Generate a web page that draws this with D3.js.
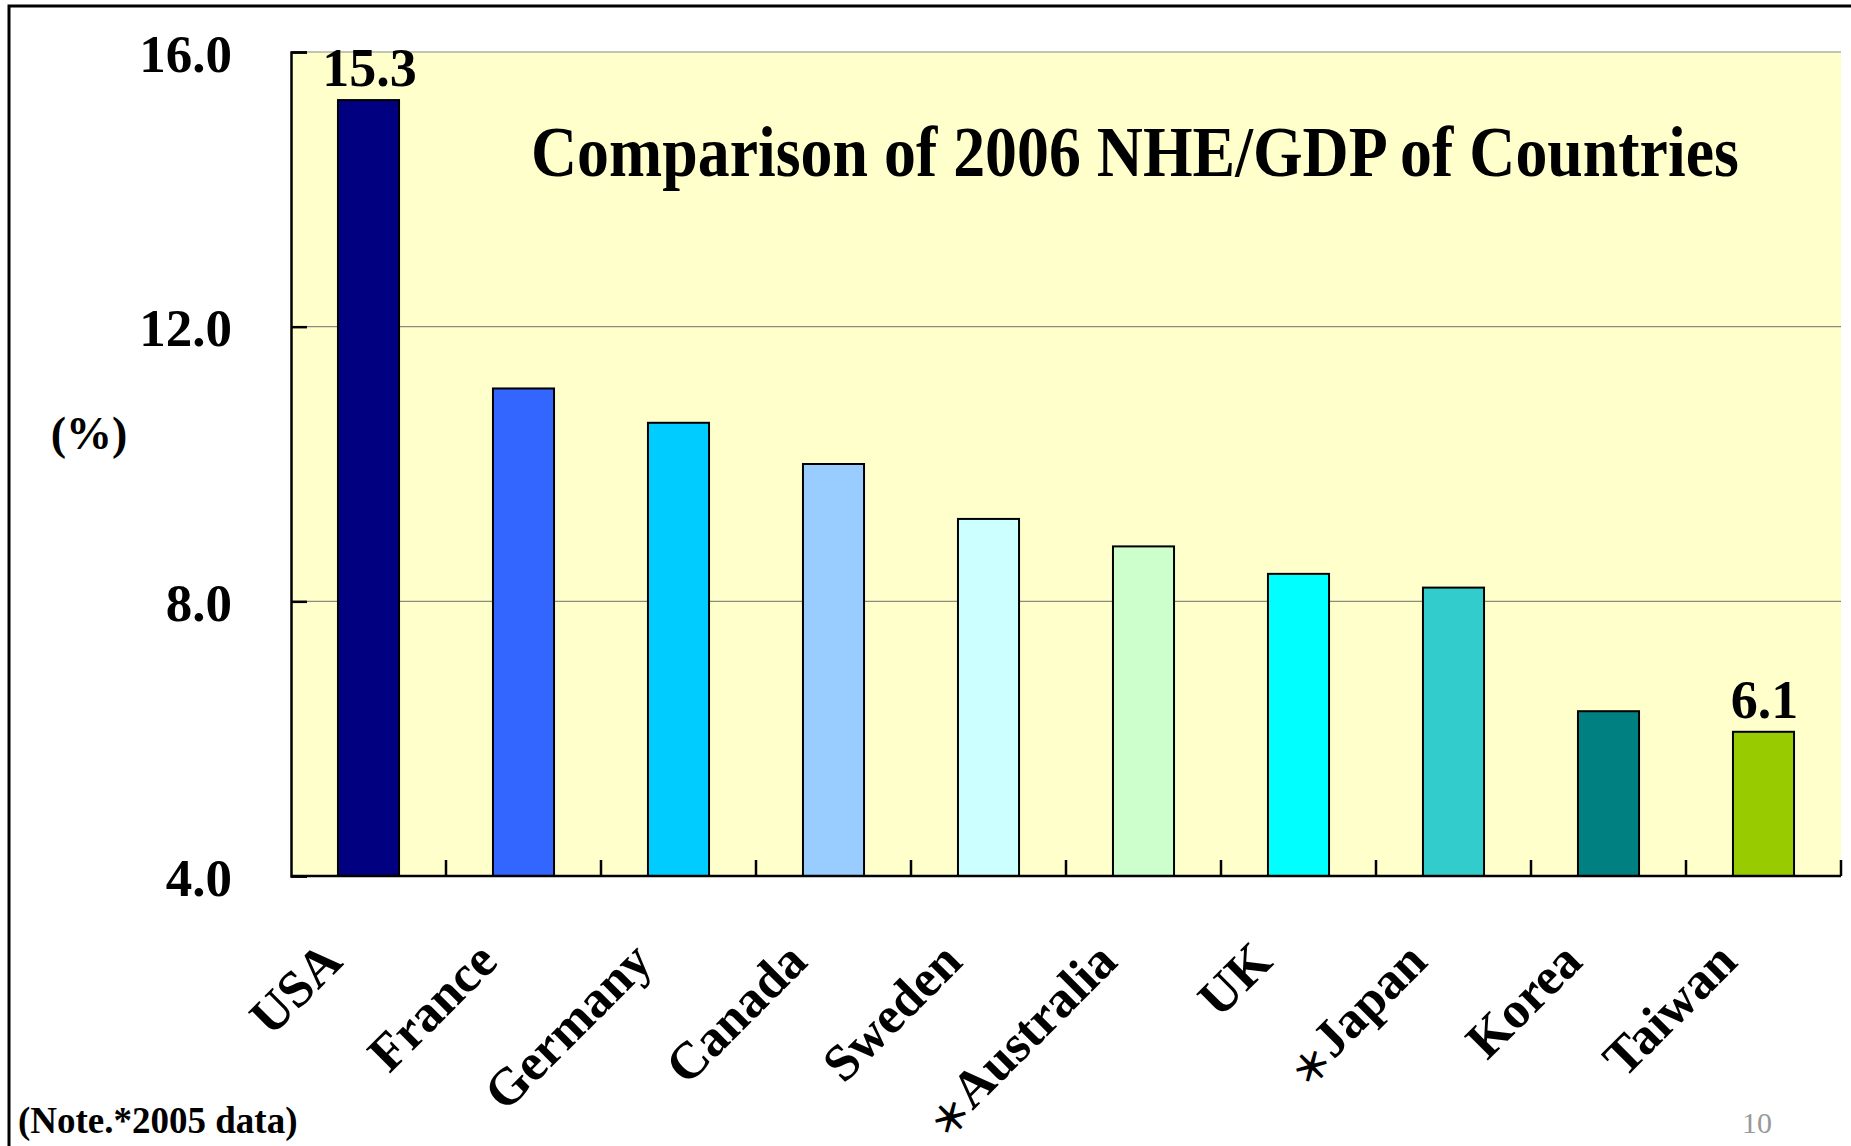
<!DOCTYPE html>
<html>
<head>
<meta charset="utf-8">
<script src="https://cdn.jsdelivr.net/npm/d3@7"></script>
<style>
  html, body { margin: 0; padding: 0; background: #fff; }
  svg { display: block; }
</style>
</head>
<body>
<svg id="chart" width="1851" height="1146"></svg>
<script>
const categories = ["USA", "France", "Germany", "Canada", "Sweden", "＊Australia", "UK", "＊Japan", "Korea", "Taiwan"];
const values = [15.3, 11.1, 10.6, 10.0, 9.2, 8.8, 8.4, 8.2, 6.4, 6.1];
const colors = ["#000080", "#3366FF", "#00CCFF", "#99CCFF", "#CCFFFF", "#CCFFCC", "#00FFFF", "#33CCCC", "#008080", "#99CC00"];
const yTicks = [4, 8, 12, 16];
const labelled = ["USA", "Taiwan"];

const SERIF = '"Liberation Serif", "Times New Roman", serif';
const svg = d3.select("#chart");
const W = 1851, H = 1146;
const plot = { left: 291, right: 1841, top: 52, bottom: 876 };

// outer frame
svg.append("rect")
  .attr("x", 9).attr("y", 6)
  .attr("width", W + 20).attr("height", H + 20)
  .attr("fill", "none").attr("stroke", "#000").attr("stroke-width", 3);

const x = d3.scaleBand()
  .domain(categories)
  .range([plot.left, plot.right])
  .paddingInner(0.606)
  .paddingOuter(0.303);

const y = d3.scaleLinear().domain([4, 16]).range([plot.bottom, plot.top]);

// plot background
svg.append("rect")
  .attr("x", plot.left).attr("y", plot.top)
  .attr("width", plot.right - plot.left).attr("height", plot.bottom - plot.top)
  .attr("fill", "#FFFFCC");

// gridlines
svg.append("g").selectAll("line")
  .data(yTicks.filter(t => t > 4))
  .join("line")
  .attr("x1", plot.left).attr("x2", plot.right)
  .attr("y1", d => y(d)).attr("y2", d => y(d))
  .attr("stroke", "#8a8a80").attr("stroke-width", 1.2);

// bars
svg.append("g").selectAll("rect")
  .data(categories)
  .join("rect")
  .attr("x", d => x(d))
  .attr("width", x.bandwidth())
  .attr("y", (d, i) => y(values[i]))
  .attr("height", (d, i) => y(4) - y(values[i]))
  .attr("fill", (d, i) => colors[i])
  .attr("stroke", "#000").attr("stroke-width", 2);

// y axis
const yAxis = d3.axisLeft(y).tickValues(yTicks).tickSize(-16).tickPadding(59).tickFormat(d3.format(".1f"));
const gy = svg.append("g").attr("transform", `translate(${plot.left},0)`).call(yAxis);
gy.select(".domain").attr("stroke", "#000").attr("stroke-width", 2.5);
gy.selectAll(".tick line").attr("stroke", "#000").attr("stroke-width", 2.5);
gy.selectAll(".tick text")
  .attr("fill", "#000")
  .style("font-family", SERIF).style("font-weight", "bold").style("font-size", "53px")
  .attr("dy", "0.36em");

// x axis line and boundary ticks
const step = x.step();
const boundaries = d3.range(categories.length + 1).map(i => plot.left + i * step);
svg.append("line")
  .attr("x1", plot.left).attr("x2", plot.right)
  .attr("y1", plot.bottom).attr("y2", plot.bottom)
  .attr("stroke", "#000").attr("stroke-width", 2.5);
svg.append("g").selectAll("line")
  .data(boundaries.slice(1))
  .join("line")
  .attr("x1", d => d).attr("x2", d => d)
  .attr("y1", plot.bottom).attr("y2", plot.bottom - 16)
  .attr("stroke", "#000").attr("stroke-width", 2.5);

// category labels
svg.append("g").selectAll("text")
  .data(categories)
  .join("text")
  .attr("transform", d => `translate(${x(d) + x.bandwidth() / 2 - 24},964) rotate(-45)`)
  .attr("text-anchor", "end")
  .attr("fill", "#000")
  .style("font-family", SERIF).style("font-weight", "bold").style("font-size", "52px")
  .each(function(d) {
    const t = d3.select(this);
    if (d.startsWith("＊")) {
      t.append("tspan")
        .style("font-weight", "bold")
        .style("font-family", '"Noto Sans CJK TC", "Noto Sans CJK SC", sans-serif')
        .style("font-size", "40px")
        .attr("dy", 4)
        .text("＊");
      t.append("tspan").attr("dy", -4).text(d.slice(1));
    } else {
      t.text(d);
    }
  });

// value labels
svg.append("g").selectAll("text")
  .data(categories.filter(c => labelled.includes(c)))
  .join("text")
  .attr("x", d => x(d) + x.bandwidth() / 2 + 1)
  .attr("y", d => y(values[categories.indexOf(d)]) - 14)
  .attr("text-anchor", "middle")
  .attr("fill", "#000")
  .style("font-family", SERIF).style("font-weight", "bold").style("font-size", "54px")
  .text(d => d3.format(".1f")(values[categories.indexOf(d)]));

// y axis unit label
svg.append("text")
  .attr("x", 89).attr("y", 449)
  .attr("text-anchor", "middle")
  .style("font-family", SERIF).style("font-weight", "bold").style("font-size", "46px")
  .text("(%)");

// title (horizontally condensed like the reference)
const title = svg.append("text")
  .attr("x", 0).attr("y", 0)
  .style("font-family", SERIF).style("font-weight", "bold").style("font-size", "71px")
  .text("Comparison of 2006 NHE/GDP of Countries");
const natural = title.node().getComputedTextLength();
const sx = 1208 / natural;
title.attr("transform", `translate(531,176) scale(${sx},1)`);

// note
svg.append("text")
  .attr("x", 18).attr("y", 1133)
  .style("font-family", SERIF).style("font-weight", "bold").style("font-size", "37px")
  .text("(Note.*2005 data)");

// page number
svg.append("text")
  .attr("x", 1757).attr("y", 1133)
  .attr("text-anchor", "middle")
  .attr("fill", "#999")
  .style("font-family", SERIF).style("font-weight", "normal").style("font-size", "30px")
  .text("10");
</script>
</body>
</html>
